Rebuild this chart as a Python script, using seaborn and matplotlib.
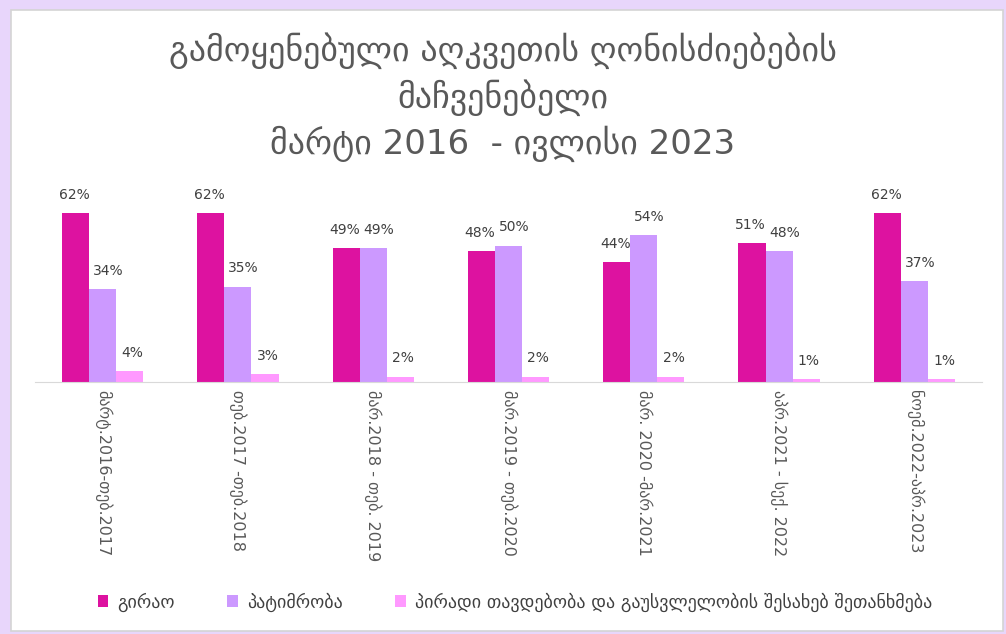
import pandas as pd
import seaborn as sns
import matplotlib.pyplot as plt
from matplotlib.patches import Rectangle

# პერიოდები (x ღერძი)
periods = [
    "მარტ.2016-თებ.2017",
    "თებ.2017 -თებ.2018",
    "მარ.2018 - თებ. 2019",
    "მარ.2019 - თებ.2020",
    "მარ. 2020 -მარ.2021",
    "აპრ.2021 - სექ. 2022",
    "ნოემ.2022-აპრ.2023",
]
series_names = ["გირაო", "პატიმრობა", "პირადი თავდებობა და გაუსვლელობის შესახებ შეთანხმება"]
bail = [62, 62, 49, 48, 44, 51, 62]
detention = [34, 35, 49, 50, 54, 48, 37]
personal = [4, 3, 2, 2, 2, 1, 1]
colors = ["#DD12A0", "#CC99FF", "#FF99FF"]

title = "გამოყენებული აღკვეთის ღონისძიებების\nმაჩვენებელი\nმარტი 2016  - ივლისი 2023"

# long-form table for seaborn
df = pd.DataFrame({
    "period": periods * 3,
    "series": [series_names[0]] * 7 + [series_names[1]] * 7 + [series_names[2]] * 7,
    "value": bail + detention + personal,
})

sns.set_style("white")
plt.rcParams["font.family"] = ["DejaVu Sans"]

W, H = 1006, 634
fig = plt.figure(figsize=(W / 100, H / 100), dpi=100, facecolor="#E8D6FB")
# white card with thin grey edge
fig.patches.append(Rectangle((11 / W, 3 / H), 992 / W, 621 / H, transform=fig.transFigure,
                             facecolor="white", edgecolor="#D4D4D4", lw=1.2, zorder=-5))

ax = fig.add_axes([35 / W, 252 / H, 947 / W, 191 / H])
ax.set_facecolor("none")
sns.barplot(data=df, x="period", y="value", hue="series", palette=colors,
            width=0.6, gap=0, saturation=1, linewidth=0, ax=ax, legend=True)

# data labels; the middle series is nudged right a bit (like in the original)
shifts = [-1, 4, 2]
for cont, dx in zip(ax.containers, shifts):
    anns = ax.bar_label(cont, labels=[f"{int(v)}%" for v in cont.datavalues],
                        padding=8, fontsize=10, color="#404040")
    for a in anns:
        a.xyann = (dx, 8)

ax.set_ylim(0, 70)
ax.set_xlim(-0.5, 6.5)
ax.set_yticks([])
ax.set_xlabel("")
ax.set_ylabel("")
for s in ["top", "left", "right"]:
    ax.spines[s].set_visible(False)
ax.spines["bottom"].set_color("#D9D9D9")
ax.tick_params(axis="x", length=0, pad=6)
plt.setp(ax.get_xticklabels(), rotation=-90, fontsize=11.5, color="#595959")

handles, labels = ax.get_legend_handles_labels()
ax.get_legend().remove()
fig.legend(handles, labels, loc="center", bbox_to_anchor=(515 / W, 1 - 602 / H), ncol=3,
           frameon=False, fontsize=13, handlelength=0.6, handleheight=0.6,
           handletextpad=0.5, columnspacing=2.9, labelcolor="#404040")

fig.text(503 / W, 1 - 97 / H, title, ha="center", va="center", fontsize=24.5,
         color="#595959", linespacing=1.35)

fig.savefig("out.png", dpi=100, facecolor=fig.get_facecolor())
